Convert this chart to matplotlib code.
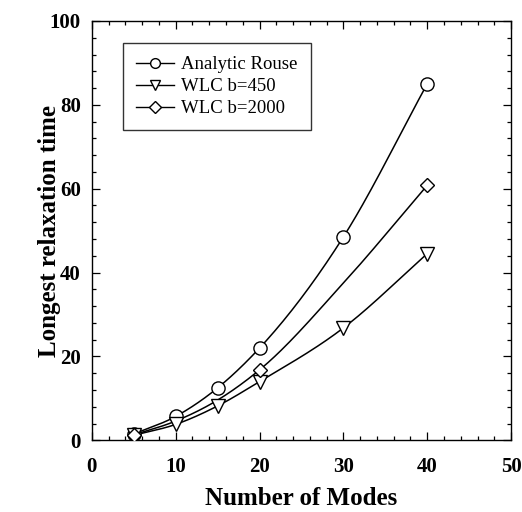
import numpy as np
import matplotlib
matplotlib.use("Agg")
import matplotlib.pyplot as plt
from matplotlib.lines import Line2D
from matplotlib.ticker import MultipleLocator

modes = [5, 10, 15, 20, 30, 40]
rouse = [1.5, 5.7, 12.5, 22.0, 48.5, 85.0]
wlc450 = [1.2, 3.8, 8.2, 14.0, 26.8, 44.5]
wlc2000 = [1.3, 4.6, 9.6, 16.8, 37.5, 60.8]
diamond_marks = [0, 3, 5]
labels = ["Analytic Rouse", "WLC b=450", "WLC b=2000"]

plt.rcParams['font.family'] = ['Liberation Serif', 'DejaVu Serif']

def smooth(x, y, n=40):
    # cubic Hermite curve through the points (drawing only)
    x = np.asarray(x, float); y = np.asarray(y, float)
    xs, ys = [], []
    m = np.gradient(y, x)
    for i in range(len(x) - 1):
        h = x[i + 1] - x[i]
        t = np.linspace(0, 1, n)
        h00 = 2 * t**3 - 3 * t**2 + 1
        h10 = t**3 - 2 * t**2 + t
        h01 = -2 * t**3 + 3 * t**2
        h11 = t**3 - t**2
        xs.append(x[i] + t * h)
        ys.append(h00 * y[i] + h10 * h * m[i] + h01 * y[i + 1] + h11 * h * m[i + 1])
    return np.concatenate(xs), np.concatenate(ys)

fig = plt.figure(figsize=(5.22, 5.12), dpi=100)
ax = fig.add_axes([0.176, 0.140, 0.803, 0.819])

lw = 1.1
for ys in (rouse, wlc450, wlc2000):
    sx, sy = smooth(modes, ys)
    ax.plot(sx, sy, color='black', lw=lw, zorder=2)

mk = dict(color='black', markerfacecolor='white', markeredgecolor='black', markeredgewidth=1.0, lw=0, zorder=3)
ax.plot(modes, rouse, marker='o', markersize=9.5, **mk)
ax.plot(modes, wlc450, marker='v', markersize=9.5, **mk)
ax.plot([modes[i] for i in diamond_marks], [wlc2000[i] for i in diamond_marks], marker='D', markersize=7.5, **mk)

ax.set_xlim(0, 50)
ax.set_ylim(0, 100)
ax.xaxis.set_major_locator(MultipleLocator(10))
ax.xaxis.set_minor_locator(MultipleLocator(2))
ax.yaxis.set_major_locator(MultipleLocator(20))
ax.yaxis.set_minor_locator(MultipleLocator(4))
ax.tick_params(which='both', direction='in', top=True, right=True, width=0.9)
ax.tick_params(which='major', length=6, labelsize=15)
ax.tick_params(axis='x', which='major', pad=12)
ax.tick_params(axis='y', which='major', pad=8)
ax.tick_params(which='minor', length=3)
for lab in ax.get_xticklabels() + ax.get_yticklabels():
    lab.set_fontweight('bold')
for s in ax.spines.values():
    s.set_linewidth(1.0)

ax.set_xlabel("Number of Modes", fontsize=18, fontweight='bold', labelpad=7)
ax.set_ylabel("Longest relaxation time", fontsize=18, fontweight='bold', labelpad=-8)

handles = [
    Line2D([], [], marker='o', markersize=7, **{**mk, 'lw': 1.0}),
    Line2D([], [], marker='v', markersize=7, **{**mk, 'lw': 1.0}),
    Line2D([], [], marker='D', markersize=6, **{**mk, 'lw': 1.0}),
]
leg = ax.legend(handles, labels, loc='upper left', bbox_to_anchor=(0.075, 0.947),
                fontsize=13.5, frameon=True, fancybox=False, handlelength=2.0,
                borderpad=0.7, labelspacing=0.25, handletextpad=0.4, borderaxespad=0)
leg.get_frame().set_edgecolor('black')
leg.get_frame().set_linewidth(1.0)

fig.savefig("out.png", dpi=100)
